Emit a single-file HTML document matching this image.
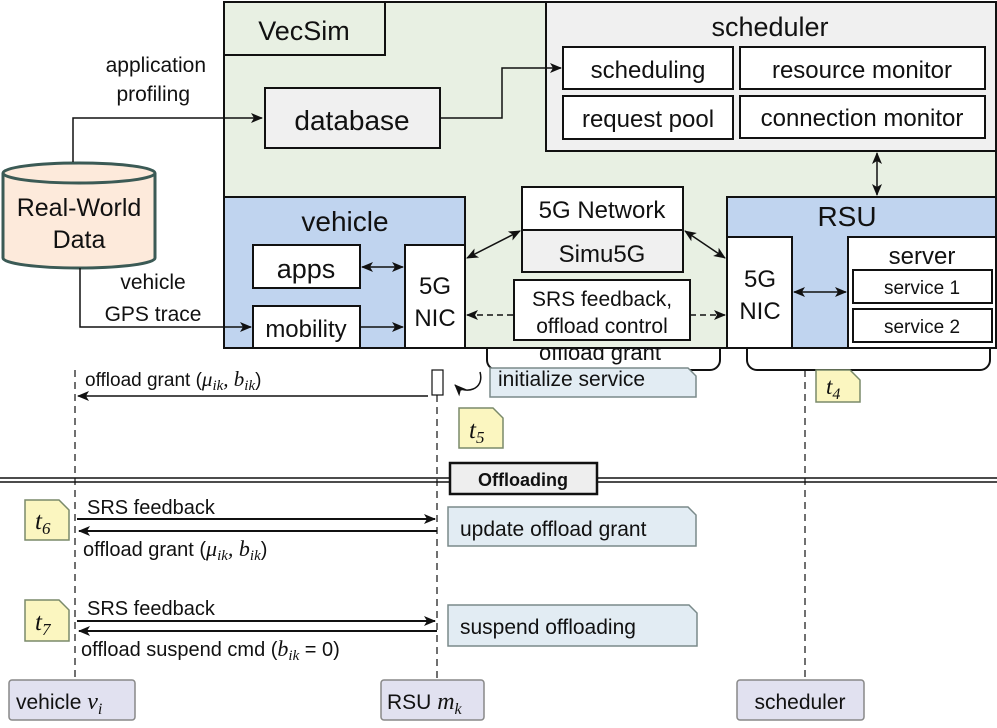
<!DOCTYPE html>
<html><head><meta charset="utf-8"><style>
html,body{margin:0;padding:0;background:#fff}
svg text{font-family:"Liberation Sans",sans-serif;fill:#111}
.m{font-family:"Liberation Serif",serif;font-style:italic}
</style></head><body>
<svg width="997" height="723" viewBox="0 0 997 723" xmlns="http://www.w3.org/2000/svg">
<defs>
<marker id="a" markerWidth="12" markerHeight="12" refX="11" refY="6" orient="auto-start-reverse" markerUnits="userSpaceOnUse"><path d="M0,1 L12,6 L0,11 L3,6 z" fill="#111"/></marker>
</defs>
<rect x="487" y="330" width="233" height="40" rx="10" fill="#fff" stroke="#111" stroke-width="2"/>
<text x="600" y="360" font-size="22" text-anchor="middle">offload grant</text>
<rect x="747" y="330" width="243" height="40" rx="10" fill="#fff" stroke="#111" stroke-width="2"/>
<rect x="224" y="2" width="772" height="346" fill="#e8f0e3" stroke="#111" stroke-width="2"/>
<rect x="224" y="2" width="161" height="53" fill="#e8f0e3" stroke="#111" stroke-width="2"/>
<text x="304" y="40" font-size="27" text-anchor="middle">VecSim</text>
<rect x="546" y="2" width="450" height="149" fill="#f0f0f0" stroke="#111" stroke-width="2"/>
<text x="770" y="36" font-size="27" text-anchor="middle">scheduler</text>
<rect x="563" y="47" width="170" height="42" fill="#fff" stroke="#111" stroke-width="2"/>
<text x="648" y="78" font-size="24" text-anchor="middle">scheduling</text>
<rect x="740" y="47" width="245" height="42" fill="#fff" stroke="#111" stroke-width="2"/>
<text x="862" y="78" font-size="24" text-anchor="middle">resource monitor</text>
<rect x="563" y="96" width="170" height="43" fill="#fff" stroke="#111" stroke-width="2"/>
<text x="648" y="127" font-size="24" text-anchor="middle">request pool</text>
<rect x="740" y="96" width="245" height="42" fill="#fff" stroke="#111" stroke-width="2"/>
<text x="862" y="126" font-size="24" text-anchor="middle">connection monitor</text>
<rect x="265" y="88" width="175" height="60" fill="#f0f0f0" stroke="#111" stroke-width="2"/>
<text x="352" y="130" font-size="28" text-anchor="middle">database</text>
<polyline points="440,118 502,118 502,68 561,68" fill="none" stroke="#111" stroke-width="1.5" marker-end="url(#a)"/>
<line x1="877" y1="153" x2="877" y2="195" stroke="#111" stroke-width="1.5" marker-start="url(#a)" marker-end="url(#a)"/>
<rect x="224" y="197" width="241" height="151" fill="#c0d4ef" stroke="#111" stroke-width="2"/>
<text x="345" y="231" font-size="28" text-anchor="middle">vehicle</text>
<rect x="253" y="245" width="107" height="43" fill="#fff" stroke="#111" stroke-width="2"/>
<text x="306" y="278" font-size="27" text-anchor="middle">apps</text>
<rect x="253" y="306" width="107" height="42" fill="#fff" stroke="#111" stroke-width="2"/>
<text x="306" y="337" font-size="24" text-anchor="middle">mobility</text>
<rect x="405" y="245" width="60" height="103" fill="#fff" stroke="#111" stroke-width="2"/>
<text x="435" y="294" font-size="24" text-anchor="middle">5G</text>
<text x="435" y="326" font-size="24" text-anchor="middle">NIC</text>
<line x1="362" y1="267" x2="403" y2="267" stroke="#111" stroke-width="1.5" marker-start="url(#a)" marker-end="url(#a)"/>
<line x1="360" y1="327" x2="403" y2="327" stroke="#111" stroke-width="1.5" marker-end="url(#a)"/>
<rect x="522" y="187" width="161" height="43" fill="#fff" stroke="#111" stroke-width="2"/>
<text x="602" y="218" font-size="24" text-anchor="middle">5G Network</text>
<rect x="522" y="230" width="161" height="42" fill="#f0f0f0" stroke="#111" stroke-width="2"/>
<text x="602" y="262" font-size="24" text-anchor="middle">Simu5G</text>
<rect x="514" y="280" width="176" height="60" fill="#fff" stroke="#111" stroke-width="2"/>
<text x="602" y="306" font-size="21" text-anchor="middle">SRS feedback,</text>
<text x="602" y="333" font-size="21" text-anchor="middle">offload control</text>
<line x1="467" y1="258" x2="520" y2="231" stroke="#111" stroke-width="1.5" marker-start="url(#a)" marker-end="url(#a)"/>
<line x1="685" y1="231" x2="725" y2="258" stroke="#111" stroke-width="1.5" marker-start="url(#a)" marker-end="url(#a)"/>
<line x1="467" y1="315" x2="514" y2="315" stroke="#111" stroke-width="1.5" stroke-dasharray="6,4" marker-start="url(#a)"/>
<line x1="690" y1="315" x2="725" y2="315" stroke="#111" stroke-width="1.5" stroke-dasharray="6,4" marker-end="url(#a)"/>
<rect x="727" y="197" width="269" height="151" fill="#c0d4ef" stroke="#111" stroke-width="2"/>
<text x="847" y="226" font-size="28" text-anchor="middle">RSU</text>
<rect x="727" y="237" width="65" height="111" fill="#fff" stroke="#111" stroke-width="2"/>
<text x="760" y="287" font-size="24" text-anchor="middle">5G</text>
<text x="760" y="319" font-size="24" text-anchor="middle">NIC</text>
<rect x="848" y="237" width="148" height="111" fill="#fff" stroke="#111" stroke-width="2"/>
<text x="922" y="264" font-size="24" text-anchor="middle">server</text>
<rect x="853" y="270" width="139" height="33" fill="#fff" stroke="#111" stroke-width="2"/>
<text x="922" y="294" font-size="19" text-anchor="middle">service 1</text>
<rect x="853" y="309" width="139" height="33" fill="#fff" stroke="#111" stroke-width="2"/>
<text x="922" y="333" font-size="19" text-anchor="middle">service 2</text>
<line x1="794" y1="292" x2="846" y2="292" stroke="#111" stroke-width="1.5" marker-start="url(#a)" marker-end="url(#a)"/>
<path d="M3,173 L3,258 A76,10 0 0 0 155,258 L155,173" fill="#fdeadb" stroke="#3b5a55" stroke-width="3"/>
<ellipse cx="79" cy="173" rx="76" ry="10" fill="#fdeadb" stroke="#3b5a55" stroke-width="3"/>
<text x="79" y="216" font-size="25" text-anchor="middle">Real-World</text>
<text x="79" y="248" font-size="25" text-anchor="middle">Data</text>
<polyline points="73,162 73,118 262,118" fill="none" stroke="#111" stroke-width="1.5" marker-end="url(#a)"/>
<text x="206" y="72" font-size="21" text-anchor="end">application</text>
<text x="190" y="101" font-size="21" text-anchor="end">profiling</text>
<polyline points="80,268 80,327 251,327" fill="none" stroke="#111" stroke-width="1.5" marker-end="url(#a)"/>
<text x="153" y="289" font-size="21" text-anchor="middle">vehicle</text>
<text x="153" y="321" font-size="21" text-anchor="middle">GPS trace</text>
<g stroke="#111" stroke-width="1.2" stroke-dasharray="7,5">
<line x1="75" y1="370" x2="75" y2="680"/><line x1="437" y1="395" x2="437" y2="680"/><line x1="805" y1="370" x2="805" y2="680"/>
</g>
<rect x="432" y="370" width="11" height="25" fill="#fff" stroke="#111" stroke-width="1.2"/>
<path d="M480,372 C485,390 465,395 455,385" fill="none" stroke="#111" stroke-width="1.5" marker-end="url(#a)"/>
<line x1="428" y1="396" x2="78" y2="396" stroke="#111" stroke-width="1.5" marker-end="url(#a)"/>
<text x="85" y="386" font-size="19">offload grant (<tspan class="m" font-size="21">μ<tspan font-size="15" dy="4">ik</tspan><tspan dy="-4">, b</tspan><tspan font-size="15" dy="4">ik</tspan></tspan><tspan dy="-4">)</tspan></text>
<path d="M490,368 L688,368 L696,376 L696,397 L490,397 Z" fill="#e2ecf3" stroke="#7a8a8a" stroke-width="1.5"/>
<text x="498" y="386" font-size="21">initialize service</text>
<g fill="#fbf6c0" stroke="#7a8a6a" stroke-width="1.5">
<path d="M816,370 L850,370 L860,380 L860,402 L816,402 Z"/>
<path d="M459,408 L493,408 L503,418 L503,448 L459,448 Z"/>
<path d="M25,500 L59,500 L69,510 L69,540 L25,540 Z"/>
<path d="M25,600 L59,600 L69,610 L69,641 L25,641 Z"/>
</g>
<text x="826" y="394" font-size="23" class="m">t<tspan font-size="16" dy="5">4</tspan></text>
<text x="469" y="438" font-size="25" class="m">t<tspan font-size="17" dy="5">5</tspan></text>
<text x="35" y="529" font-size="25" class="m">t<tspan font-size="17" dy="5">6</tspan></text>
<text x="35" y="630" font-size="25" class="m">t<tspan font-size="17" dy="5">7</tspan></text>
<line x1="0" y1="478" x2="997" y2="478" stroke="#111" stroke-width="1.5"/>
<line x1="0" y1="482" x2="997" y2="482" stroke="#111" stroke-width="1.5"/>
<rect x="450" y="463" width="147" height="31" fill="#eee" stroke="#111" stroke-width="2.5"/>
<text x="523" y="486" font-size="18" font-weight="bold" text-anchor="middle">Offloading</text>
<text x="87" y="514" font-size="20">SRS feedback</text>
<line x1="77" y1="519" x2="435" y2="519" stroke="#111" stroke-width="2" marker-end="url(#a)"/>
<line x1="437" y1="531" x2="79" y2="531" stroke="#111" stroke-width="2" marker-end="url(#a)"/>
<text x="83" y="556" font-size="20">offload grant (<tspan class="m" font-size="22">μ<tspan font-size="15" dy="4">ik</tspan><tspan dy="-4">, b</tspan><tspan font-size="15" dy="4">ik</tspan></tspan><tspan dy="-4">)</tspan></text>
<path d="M448,507 L688,507 L696,515 L696,546 L448,546 Z" fill="#e2ecf3" stroke="#7a8a8a" stroke-width="1.5"/>
<text x="460" y="536" font-size="21">update offload grant</text>
<text x="87" y="615" font-size="20">SRS feedback</text>
<line x1="77" y1="621" x2="435" y2="621" stroke="#111" stroke-width="2" marker-end="url(#a)"/>
<line x1="437" y1="631" x2="79" y2="631" stroke="#111" stroke-width="2" marker-end="url(#a)"/>
<text x="81" y="656" font-size="20">offload suspend cmd (<tspan class="m" font-size="22">b<tspan font-size="15" dy="4">ik</tspan></tspan><tspan dy="-4"> = 0)</tspan></text>
<path d="M448,605 L689,605 L697,613 L697,646 L448,646 Z" fill="#e2ecf3" stroke="#7a8a8a" stroke-width="1.5"/>
<text x="460" y="634" font-size="21">suspend offloading</text>
<g fill="#e1e1f0" stroke="#888" stroke-width="1.5">
<rect x="9" y="680" width="126" height="40" rx="3"/>
<rect x="381" y="680" width="103" height="40" rx="3"/>
<rect x="737" y="680" width="127" height="40" rx="3"/>
</g>
<text x="16" y="709" font-size="21">vehicle <tspan class="m" font-size="24">v</tspan><tspan class="m" font-size="16" dy="5">i</tspan></text>
<text x="387" y="709" font-size="21">RSU <tspan class="m" font-size="24">m</tspan><tspan class="m" font-size="16" dy="5">k</tspan></text>
<text x="800" y="709" font-size="21" text-anchor="middle">scheduler</text>
</svg>
</body></html>
